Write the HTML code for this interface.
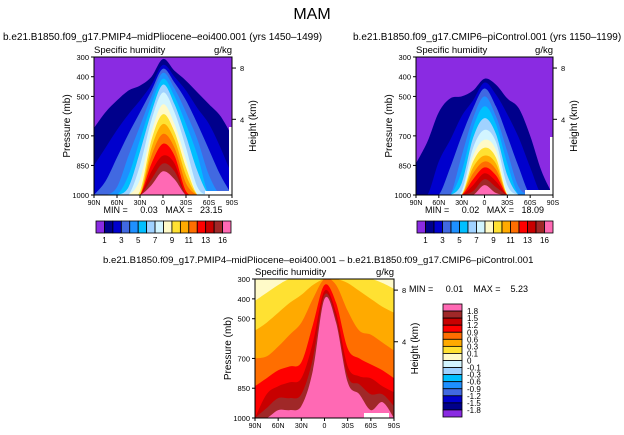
<!DOCTYPE html>
<html><head><meta charset="utf-8">
<style>
html,body{margin:0;padding:0;background:#fff;}
svg{display:block;font-family:"Liberation Sans",sans-serif;}
svg text{white-space:pre;}
</style></head>
<body>
<svg id="chart" width="624" height="435" viewBox="0 0 624 435">
<text x="312" y="19" font-size="16" text-anchor="middle">MAM</text>
</svg>
<script>
// ---------- DATA ----------
const lats = [90,75,60,45,30,15,0,-15,-30,-45,-60,-75,-90];
const latTickValues = [90,60,30,0,-30,-60,-90];
const latTickLabels = ["90N","60N","30N","0","30S","60S","90S"];
const presTicks = [300,400,500,700,850,1000];
const heightTicks = [8,4];
const heightTickPres = [356,616];
const palette = ["#8a2be2","#00008b","#0000cd","#4169e1","#1e90ff","#00bfff","#a0d2ff","#d2f5ff","#fffac8","#ffe132","#ffaa00","#ff6e00","#ff0000","#c80000","#a02828","#ff69b4"];
const qLevelLabels = ["1","","3","","5","","7","","9","","11","","13","","16"];
const diffLevelLabels = ["1.8","1.5","1.2","0.9","0.6","0.3","0.1","0","-0.1","-0.3","-0.6","-0.9","-1.2","-1.5","-1.8"];
// pressure (mb) of upper boundary of each humidity class, per latitude
const qPlio = [
 [660,580,520,470,445,400,310,370,420,480,540,600,700],
 [850,760,670,590,520,440,340,400,470,560,640,760,900],
 [1000,930,810,690,580,470,360,430,520,640,770,900,1000],
 [1000,1000,960,800,650,500,380,460,580,720,900,1000,1000],
 [1000,1000,1000,900,720,540,410,500,640,800,1000,1000,1000],
 [1000,1000,1000,960,780,580,440,540,700,880,1000,1000,1000],
 [1000,1000,1000,1000,850,620,480,580,760,960,1000,1000,1000],
 [1000,1000,1000,1000,920,680,540,640,820,1000,1000,1000,1000],
 [1000,1000,1000,1000,980,720,590,680,860,1000,1000,1000,1000],
 [1000,1000,1000,1000,1000,760,640,720,900,1000,1000,1000,1000],
 [1000,1000,1000,1000,1000,800,690,760,940,1000,1000,1000,1000],
 [1000,1000,1000,1000,1000,840,740,800,980,1000,1000,1000,1000],
 [1000,1000,1000,1000,1000,880,800,840,1000,1000,1000,1000,1000],
 [1000,1000,1000,1000,1000,920,840,880,1000,1000,1000,1000,1000],
 [1000,1000,1000,1000,1000,950,880,920,1000,1000,1000,1000,1000]
];
const qCtrl = [
 [840,730,580,510,500,470,410,440,510,560,700,880,1000],
 [1000,1000,830,720,600,520,430,490,590,710,860,1000,1000],
 [1000,1000,1000,860,700,560,460,550,700,860,1000,1000,1000],
 [1000,1000,1000,1000,800,610,500,600,780,960,1000,1000,1000],
 [1000,1000,1000,1000,880,660,550,640,840,1000,1000,1000,1000],
 [1000,1000,1000,1000,940,710,610,690,900,1000,1000,1000,1000],
 [1000,1000,1000,1000,980,760,670,730,950,1000,1000,1000,1000],
 [1000,1000,1000,1000,1000,800,720,770,990,1000,1000,1000,1000],
 [1000,1000,1000,1000,1000,830,760,810,1000,1000,1000,1000,1000],
 [1000,1000,1000,1000,1000,860,800,840,1000,1000,1000,1000,1000],
 [1000,1000,1000,1000,1000,890,830,870,1000,1000,1000,1000,1000],
 [1000,1000,1000,1000,1000,920,860,900,1000,1000,1000,1000,1000],
 [1000,1000,1000,1000,1000,950,890,930,1000,1000,1000,1000,1000],
 [1000,1000,1000,1000,1000,980,920,960,1000,1000,1000,1000,1000],
 [1000,1000,1000,1000,1000,1000,950,990,1000,1000,1000,1000,1000]
];
const diffLayers = [
 [410,370,330,300,300,300,300,300,300,300,300,320,350],
 [560,520,470,420,380,330,300,300,320,360,400,440,470],
 [700,690,640,580,520,400,300,330,460,560,580,620,660],
 [840,800,760,740,720,530,330,420,650,700,730,760,800],
 [1000,880,840,820,800,620,360,470,740,790,800,840,870],
 [1000,950,900,900,880,700,380,500,790,830,880,880,940],
 [1000,1000,960,960,940,760,400,520,820,880,960,920,1000]
];
const diffColors = ["#ffe132","#ffaa00","#ff6e00","#ff0000","#c80000","#a02828","#ff69b4"];

// ---------- DRAW ----------
const NS="http://www.w3.org/2000/svg";
const svg=document.getElementById('chart');
function mk(tag,attrs,parent){const e=document.createElementNS(NS,tag);for(const k in attrs)e.setAttribute(k,attrs[k]);(parent||svg).appendChild(e);return e;}
function txt(x,y,s,size,anchor,parent){const t=mk('text',{x:x,y:y,'font-size':size,'text-anchor':anchor||'start'},parent);t.textContent=s;return t;}
function smoothPath(P){
  let d='M'+P[0][0].toFixed(1)+','+P[0][1].toFixed(1);
  for(let i=0;i<P.length-1;i++){
    const p0=P[i-1]||P[i],p1=P[i],p2=P[i+1],p3=P[i+2]||p2;
    const c1=[p1[0]+(p2[0]-p0[0])/6,p1[1]+(p2[1]-p0[1])/6];
    const c2=[p2[0]-(p3[0]-p1[0])/6,p2[1]-(p3[1]-p1[1])/6];
    d+=' C'+c1[0].toFixed(1)+','+c1[1].toFixed(1)+' '+c2[0].toFixed(1)+','+c2[1].toFixed(1)+' '+p2[0].toFixed(1)+','+p2[1].toFixed(1);
  }
  return d;
}
let clipId=0;
function panel(opt){
  const g=mk('g',{});
  
  
  const x0=opt.x,y0=opt.y,w=opt.w,h=opt.h;
  const xs=lat=>x0+(90-lat)/180*w;
  const ys=p=>y0+(p-300)/700*h;
  const cid='clip'+(clipId++);
  const cp=mk('clipPath',{id:cid},g);
  mk('rect',{x:x0,y:y0,width:w,height:h},cp);
  const fg=mk('g',{'clip-path':'url(#'+cid+')'},g);
  mk('rect',{x:x0,y:y0,width:w,height:h,fill:opt.bg},fg);
  opt.layers.forEach((arr,i)=>{
    const P=arr.map((p,j)=>[xs(lats[j]),ys(p)]);
    const d=smoothPath(P)+' L'+xs(-90)+','+(ys(1000)+5)+' L'+xs(90)+','+(ys(1000)+5)+' Z';
    const pg=mk('path',{d:d,fill:opt.colors[i]},fg);
    
    
  });
  (opt.white||[]).forEach(r=>mk('rect',{x:r[0],y:r[1],width:r[2],height:r[3],fill:'#fff'},fg));
  mk('rect',{x:x0,y:y0,width:w,height:h,fill:'none',stroke:'#000','stroke-width':1},g);
  presTicks.forEach(p=>{
    mk('line',{x1:x0-3,x2:x0,y1:ys(p),y2:ys(p),stroke:'#000'},g);
    const t=txt(x0-5,ys(p)+3,String(p),7.5,'end',g);
    
    
  });
  heightTicks.forEach((hk,i)=>{
    const y=ys(heightTickPres[i]);
    mk('line',{x1:x0+w,x2:x0+w+4,y1:y,y2:y,stroke:'#000'},g);
    txt(x0+w+8,y+3,String(hk),7.5,'start',g);
  });
  latTickValues.forEach((v,i)=>{
    mk('line',{x1:xs(v),x2:xs(v),y1:y0+h,y2:y0+h+3,stroke:'#000'},g);
    const t=txt(xs(v),y0+h+10,latTickLabels[i],7,'middle',g);
    
    
  });
  const yl=txt(0,0,'Pressure (mb)',10,'middle',g);
  yl.setAttribute('transform','translate('+(x0-24)+','+(y0+h/2)+') rotate(-90)');
  
  
  const hl=txt(0,0,'Height (km)',10,'middle',g);
  hl.setAttribute('transform','translate('+(x0+w+24)+','+(y0+h/2)+') rotate(-90)');
  
  
  txt(x0,y0-4,'Specific humidity',9.5,'start',g);
  txt(x0+w,y0-4,'g/kg',9.5,'end',g);
  if(opt.title){const t=txt(opt.tx,opt.ty,opt.title,opt.tsize||10,'start');}
  if(opt.stats){txt(x0+w/2,y0+h+18,opt.stats,9,'middle',g);}
}

function hbar(x,y,w,h,name){
  const g=mk('g',{});
  
  
  const bw=w/palette.length;
  palette.forEach((c,i)=>mk('rect',{x:x+i*bw,y:y,width:bw,height:h,fill:c,stroke:'#000','stroke-width':0.8},g));
  qLevelLabels.forEach((s,i)=>{if(s)txt(x+(i+1)*bw,y+h+10,s,8,'middle',g);});
}
function vbar(x,y,w,h,name){
  const g=mk('g',{});
  
  
  const cols=palette.slice().reverse();
  const bh=h/cols.length;
  cols.forEach((c,i)=>mk('rect',{x:x,y:y+i*bh,width:w,height:bh,fill:c,stroke:'#000','stroke-width':0.8},g));
  diffLevelLabels.forEach((s,i)=>txt(x+w+5,y+(i+1)*bh+3,s,8,'start',g));
}

const qColors=palette.slice(1);
panel({name:'plio-panel',x:94,y:57,w:138,h:138,bg:palette[0],layers:qPlio,colors:qColors,
  white:[[229,127,4,68],[205,191,28,5]],
  title:'b.e21.B1850.f09_g17.PMIP4\u2013midPliocene\u2013eoi400.001 (yrs 1450\u20131499)',tx:3,ty:40,tsize:10,
  stats:'MIN =     0.03   MAX =   23.15'});
panel({name:'ctrl-panel',x:416,y:57,w:137,h:138,bg:palette[0],layers:qCtrl,colors:qColors,
  white:[[550,137,4,58],[525,190,29,6]],
  title:'b.e21.B1850.f09_g17.CMIP6\u2013piControl.001 (yrs 1150\u20131199)',tx:353,ty:40,tsize:10,
  stats:'MIN =     0.02   MAX =   18.09'});
panel({name:'diff-panel',x:255,y:279,w:139,h:139,bg:'#fffac8',layers:diffLayers,colors:diffColors,
  white:[[364,413,25,6]],
  title:'b.e21.B1850.f09_g17.PMIP4\u2013midPliocene\u2013eoi400.001 \u2013 b.e21.B1850.f09_g17.CMIP6\u2013piControl.001',tx:103,ty:263,tsize:9.6});
hbar(96,221,135,12,'plio-colorbar');
hbar(417,221,136,12,'ctrl-colorbar');
vbar(443,304,19,113,'diff-colorbar');
const ms=txt(409,292,'MIN =     0.01    MAX =    5.23',9,'start');


</script>
</body></html>
